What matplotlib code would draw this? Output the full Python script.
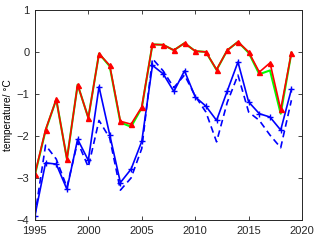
import matplotlib
matplotlib.use("Agg")
import matplotlib.pyplot as plt

plt.rcParams['font.family'] = ['Liberation Sans', 'DejaVu Sans']

years = list(range(1995, 2020))
red = [-2.91, -1.85, -1.13, -2.55, -0.78, -1.57, -0.04, -0.32, -1.65, -1.72, -1.31,
       0.18, 0.17, 0.04, 0.21, 0.02, 0.0, -0.42, 0.04, 0.24, 0.0, -0.48, -0.26, -1.37, -0.02]
green = [-2.93, -1.87, -1.13, -2.55, -0.78, -1.57, -0.04, -0.34, -1.68, -1.78, -1.33,
         0.18, 0.17, 0.04, 0.21, 0.02, 0.0, -0.43, 0.04, 0.24, -0.02, -0.53, -0.44, -1.47, -0.02]
blue_solid = [-3.9, -2.64, -2.67, -3.27, -2.08, -2.58, -0.83, -1.97, -3.11, -2.79, -2.13,
              -0.32, -0.52, -0.94, -0.45, -1.07, -1.29, -1.63, -0.93, -0.24, -1.19, -1.47, -1.55, -1.86, -0.89]
blue_dash = [-3.9, -2.22, -2.55, -3.22, -2.14, -2.74, -1.63, -2.05, -3.29, -3.0, -2.3,
             -0.16, -0.45, -0.85, -0.55, -1.05, -1.43, -2.14, -1.2, -0.55, -1.43, -1.63, -1.98, -2.28, -1.15]

xticks = [1995, 2000, 2005, 2010, 2015, 2020]
yticks = [-4, -3, -2, -1, 0, 1]

fig = plt.figure(figsize=(3.2, 2.42), dpi=100)
ax = fig.add_axes([0.109, 0.091, 0.835, 0.868])

ax.plot(years, blue_dash, color='#0000ff', lw=1.2, ls=(0, (4, 2.5)))
ax.plot(years, blue_solid, color='#0000ff', lw=1.2, marker='+', ms=5, mew=1.0)
ax.plot(years, green, color='#00ff00', lw=1.5)
ax.plot(years, red, color='#ff0000', lw=1.2, marker='^', ms=3.6, mfc='#ff0000', mec='#ff0000')

ax.set_xlim(1995, 2020)
ax.set_ylim(-4, 1)
ax.set_xticks(xticks)
ax.set_yticks(yticks)
ax.tick_params(direction='in', top=True, right=True, length=3, width=0.6,
               labelsize=8, colors='#262626')
ax.tick_params(axis='x', pad=4.5)
ax.tick_params(axis='y', pad=4)
for s in ax.spines.values():
    s.set_linewidth(0.7)
    s.set_color('#262626')
ax.set_ylabel('temperature/ °C', fontsize=7.3)
ax.yaxis.set_label_coords(-0.082, 0.5)

fig.savefig('out.png', dpi=100)
